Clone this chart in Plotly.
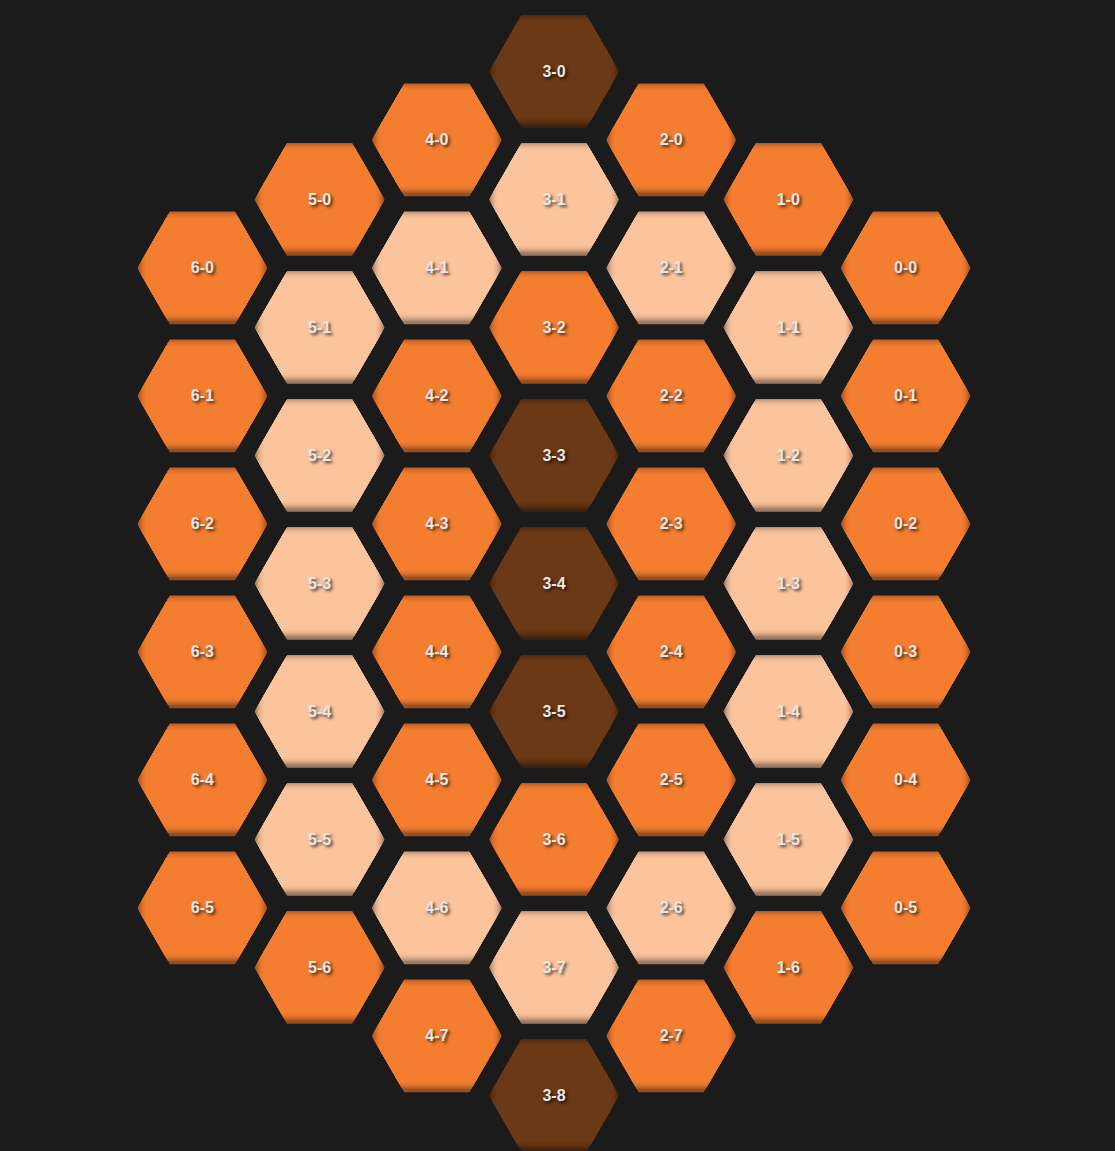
import numpy as np
import plotly.graph_objects as go

# ---- data: tier of every cell, column by column (column index = first number of the label)
tier_col0 = ["mid", "mid", "mid", "mid", "mid", "mid"]
tier_col1 = ["mid", "light", "light", "light", "light", "light", "mid"]
tier_col2 = ["mid", "light", "mid", "mid", "mid", "mid", "light", "mid"]
tier_col3 = ["dark", "light", "mid", "dark", "dark", "dark", "mid", "light", "dark"]
tier_col4 = ["mid", "light", "mid", "mid", "mid", "mid", "light", "mid"]
tier_col5 = ["mid", "light", "light", "light", "light", "light", "mid"]
tier_col6 = ["mid", "mid", "mid", "mid", "mid", "mid"]
columns = [tier_col0, tier_col1, tier_col2, tier_col3, tier_col4, tier_col5, tier_col6]

tier_colors = {"dark": (107, 57, 21), "mid": (244, 125, 48), "light": (252, 196, 157)}

# ---- layout constants (pixels)
W, H = 1115, 1151
CX0, CY0 = 554.0, 71.5      # centre of cell 3-0
DX, DY = 117.2, 128.0       # column step, row step
ODD_SHIFT = 4.5
R = 65.0                    # hex radius (flat-top)
HH = R * np.sqrt(3) / 2     # half height
BG = "#1b1b1b"
SHADOW_OY = 2.0

def centre(c, r):
    d = abs(c - 3)
    x = CX0 + (3 - c) * DX
    y = CY0 + 64.0 * d + ODD_SHIFT * (d % 2) + r * DY
    return x, y

ang = np.deg2rad(np.arange(0, 360, 60))

def clip(poly, x0, x1, y0, y1):
    def clip_edge(pts, inside, inter):
        out = []
        n = len(pts)
        for i in range(n):
            p, q = pts[i], pts[(i + 1) % n]
            ip, iq = inside(p), inside(q)
            if ip:
                out.append(p)
                if not iq:
                    out.append(inter(p, q))
            elif iq:
                out.append(inter(p, q))
        return out

    def ix(xv):
        return lambda p, q: (xv, p[1] + (q[1] - p[1]) * (xv - p[0]) / (q[0] - p[0]))

    def iy(yv):
        return lambda p, q: (p[0] + (q[0] - p[0]) * (yv - p[1]) / (q[1] - p[1]), yv)

    pts = poly
    pts = clip_edge(pts, lambda p: p[0] >= x0, ix(x0))
    pts = clip_edge(pts, lambda p: p[0] <= x1, ix(x1))
    pts = clip_edge(pts, lambda p: p[1] >= y0, iy(y0))
    pts = clip_edge(pts, lambda p: p[1] <= y1, iy(y1))
    return pts

# inset shadow layers on the bounding box: (inset distance px, darkening fraction)
layers = [(0, 0.38), (1, 0.30), (2, 0.23), (3, 0.17), (4, 0.12), (5, 0.08),
          (6, 0.05), (7, 0.025), (8.5, 0.0)]

fig = go.Figure()
for tier, rgb in tier_colors.items():
    for inset, f in layers:
        xs, ys = [], []
        for c, col in enumerate(columns):
            for r, t in enumerate(col):
                if t != tier:
                    continue
                cx, cy = centre(c, r)
                hexpts = [(cx + R * np.cos(a), cy + HH * np.sin(a) / np.sin(np.pi / 3)) for a in ang]
                pts = clip(hexpts, cx - R + inset, cx + R - inset,
                           cy - HH + inset - SHADOW_OY * (inset > 0), cy + HH - inset - SHADOW_OY * (inset > 0))
                if not pts:
                    continue
                xs += [p[0] for p in pts] + [pts[0][0], None]
                ys += [p[1] for p in pts] + [pts[0][1], None]
        col_rgb = tuple(int(round(v * (1 - f))) for v in rgb)
        fig.add_trace(go.Scatter(
            x=xs, y=ys, mode="lines", fill="toself",
            fillcolor="rgb(%d,%d,%d)" % col_rgb,
            line=dict(width=0, color="rgba(0,0,0,0)"),
            hoverinfo="skip", showlegend=False))

tx, ty, tt = [], [], []
for c, col in enumerate(columns):
    for r, t in enumerate(col):
        cx, cy = centre(c, r)
        tx.append(cx)
        ty.append(cy + 1.0)
        tt.append(f"{c}-{r}")

fig.add_trace(go.Scatter(
    x=tx, y=ty, text=tt, mode="text",
    textfont=dict(family="Liberation Sans, Arial, sans-serif", size=16, color="#e8e8e8",
                  weight="bold", shadow="2px 2px 3px rgba(0,0,0,0.7)"),
    hoverinfo="skip", showlegend=False))

fig.update_layout(
    width=W, height=H, margin=dict(l=0, r=0, t=0, b=0),
    paper_bgcolor=BG, plot_bgcolor=BG,
    xaxis=dict(range=[0, W], visible=False, fixedrange=True),
    yaxis=dict(range=[H, 0], visible=False, fixedrange=True),
)

fig.write_html("out.html", config={"displayModeBar": False},
               post_script="document.body.style.margin='0';document.body.style.background='#1b1b1b';document.body.style.overflow='hidden';")
